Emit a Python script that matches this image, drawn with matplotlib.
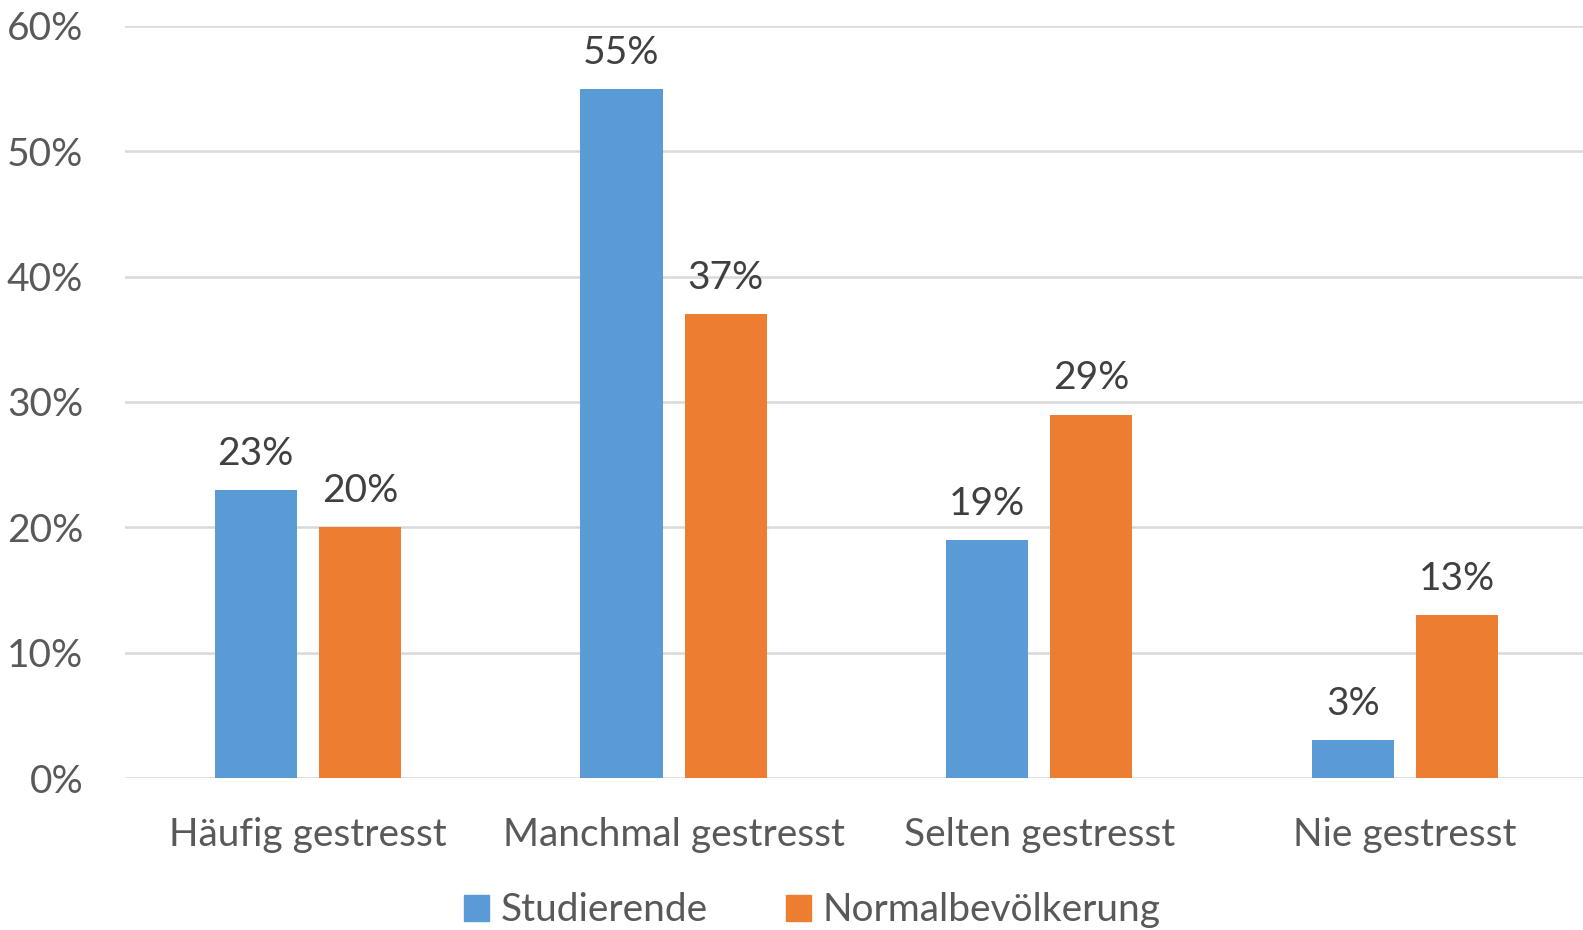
import numpy as np
import matplotlib
matplotlib.use("Agg")
import matplotlib.pyplot as plt
from matplotlib.patches import Patch

plt.rcParams['font.family'] = ['Lato', 'DejaVu Sans']

categories = ["Häufig gestresst", "Manchmal gestresst", "Selten gestresst", "Nie gestresst"]
series_names = ["Studierende", "Normalbevölkerung"]
studierende = [23, 55, 19, 3]
normalbevoelkerung = [20, 37, 29, 13]
y_ticks = [0, 10, 20, 30, 40, 50, 60]

BLUE = "#5B9BD5"
ORANGE = "#ED7D31"
TEXT = "#595959"
LABEL = "#404040"
GRID = "#D9D9D9"
FS = 28

fig = plt.figure(figsize=(15.83, 9.30), dpi=100)
ax = fig.add_axes([125 / 1583, 152 / 930, 1 - 125 / 1583 + 0.003, 752 / 930])

x = np.arange(len(categories))
width = 0.225
gap = 0.06
offset = (width + gap) / 2

bars_s = ax.bar(x - offset, studierende, width, color=BLUE, zorder=3)
bars_n = ax.bar(x + offset, normalbevoelkerung, width, color=ORANGE, zorder=3)

for bars, vals in [(bars_s, studierende), (bars_n, normalbevoelkerung)]:
    for b, v in zip(bars, vals):
        ax.annotate(f"{v}%", (b.get_x() + b.get_width() / 2, v),
                    xytext=(0, 13), textcoords="offset points",
                    ha="center", va="bottom", fontsize=FS, color=LABEL)

ax.set_xlim(-0.5, len(categories) - 0.5)
ax.set_ylim(0, 60)
ax.set_yticks(y_ticks)
ax.set_yticklabels([f"{t}%" for t in y_ticks])
ax.set_xticks(x)
ax.set_xticklabels(categories)
ax.tick_params(axis="y", length=0, pad=30, labelsize=FS, labelcolor=TEXT)
ax.tick_params(axis="x", length=0, pad=28, labelsize=FS, labelcolor=TEXT)

ax.grid(axis="y", color=GRID, linewidth=1.8, zorder=0)
ax.set_axisbelow(True)
for s in ax.spines.values():
    s.set_visible(False)

handles = [Patch(color=BLUE, label=series_names[0]),
           Patch(color=ORANGE, label=series_names[1])]
fig.legend(handles=handles, loc="center", bbox_to_anchor=(0.513, 0.021), ncol=2,
           frameon=False, fontsize=FS, labelcolor=TEXT,
           handlelength=0.65, handleheight=0.65, handletextpad=0.3, columnspacing=2.0)

fig.savefig("out.png", dpi=100, facecolor="white")
